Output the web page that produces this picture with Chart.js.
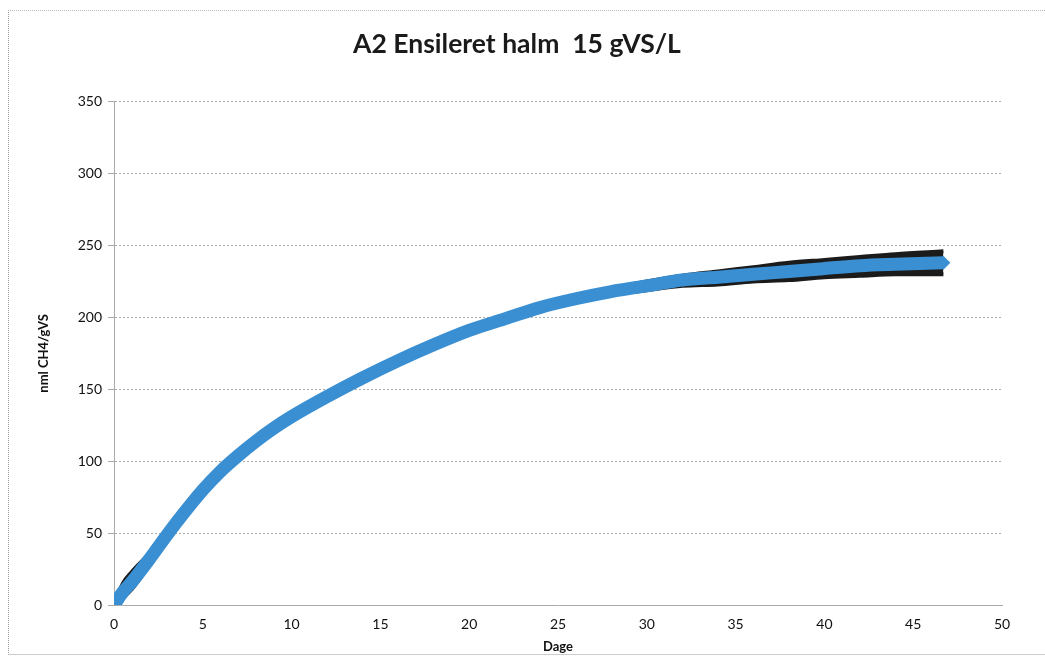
<!DOCTYPE html>
<html>
<head>
<meta charset="utf-8">
<script src="https://cdn.jsdelivr.net/npm/chart.js@4.4.1/dist/chart.umd.min.js"></script>
<style>
  html, body { margin: 0; padding: 0; background: #fff; }
  #wrap { position: relative; width: 1045px; height: 659px; }
  #frame { position: absolute; left: 8px; top: 10px; width: 1045px; height: 645px; border-left: 1px dotted #999; border-top: 1px dotted #bbb; border-bottom: 1px solid #ccc; box-sizing: border-box; pointer-events: none; }
</style>
</head>
<body>
<div id="wrap">
  <canvas id="chart" width="1045" height="659"></canvas>
  <div id="frame"></div>
</div>
<script>
// days and accumulated methane (nml CH4/gVS)
const days  = [0, 0.5, 1, 2, 3, 4, 5, 6, 7, 8, 9, 10, 12, 14, 16, 18, 20, 22, 24, 26, 28, 30, 32, 34, 36, 38, 40, 42, 44, 46.7];
const meanCH4 = [0, 9, 16, 32, 49, 65, 80, 93, 104, 114, 123, 131, 145, 158, 170, 181, 191, 199, 207, 213, 218, 222, 226, 228, 230, 232, 234, 236, 237, 238];
const upperCH4 = [0, 15, 23, 36, 51, 67, 82, 94, 105, 115, 124, 132, 146, 159, 171, 182, 192, 200, 208, 214, 220, 225, 229, 232, 235, 238, 240, 242, 244, 246];
const lowerCH4 = [0, 5, 11, 28, 46, 63, 78, 92, 102, 112, 121, 129, 143, 157, 169, 180, 190, 198, 205, 211, 216, 219, 222, 223, 225, 226, 228, 229, 230, 230];

const xTicks = [0, 5, 10, 15, 20, 25, 30, 35, 40, 45, 50];
const yTicks = [0, 50, 100, 150, 200, 250, 300, 350];

const toPts = arr => days.map((d, i) => ({x: d, y: arr[i]}));

const font = "Lato, 'Open Sans', 'DejaVu Sans', sans-serif";

new Chart(document.getElementById('chart'), {
  type: 'line',
  data: {
    datasets: [
      {
        label: 'upper',
        data: toPts(upperCH4),
        borderColor: '#1b1b1b',
        borderWidth: 4,
        pointRadius: 0,
        cubicInterpolationMode: 'monotone',
        fill: '+1',
        backgroundColor: '#1b1b1b',
        order: 2
      },
      {
        label: 'lower',
        data: toPts(lowerCH4),
        borderColor: '#1b1b1b',
        borderWidth: 4,
        pointRadius: 0,
        cubicInterpolationMode: 'monotone',
        fill: false,
        order: 2
      },
      {
        label: 'A2',
        data: toPts(meanCH4),
        borderColor: '#3a8fd2',
        backgroundColor: '#3a8fd2',
        borderWidth: 13,
        pointStyle: 'rectRot',
        pointRadius: ctx => ctx.dataIndex === days.length - 1 || ctx.dataIndex === 0 ? 7 : 4,
        pointBorderWidth: 0,
        cubicInterpolationMode: 'monotone',
        fill: false,
        order: 1
      }
    ]
  },
  options: {
    responsive: false,
    animation: false,
    layout: { padding: { left: 32, right: 43, top: 18, bottom: 0 } },
    plugins: {
      legend: { display: false },
      tooltip: { enabled: false },
      title: {
        display: true,
        text: 'A2 Ensileret halm  15 gVS/L',
        color: '#1a1a1a',
        font: { family: font, size: 26.5, weight: 'bold' },
        padding: { top: 11, bottom: 41 }
      }
    },
    scales: {
      x: {
        type: 'linear',
        min: 0,
        max: 50,
        afterBuildTicks: s => { s.ticks = xTicks.map(v => ({value: v})); },
        afterFit: s => { s.height = 54; },
        grid: { display: false, drawTicks: true, tickLength: 5, color: '#999' },
        border: { color: '#aaa', width: 1 },
        ticks: { color: '#111', font: { family: font, size: 14 }, padding: 6 },
        title: { display: true, text: 'Dage', color: '#111', font: { family: font, size: 13, weight: 'bold' }, padding: { top: 0 } }
      },
      y: {
        min: 0,
        max: 350,
        afterBuildTicks: s => { s.ticks = yTicks.map(v => ({value: v})); },
        afterFit: s => { s.width = 82; },
        grid: { color: '#a9a9a9', lineWidth: 1, drawTicks: true, tickLength: 6 },
        border: { color: '#aaa', width: 1, dash: [2, 2] },
        ticks: { color: '#111', font: { family: font, size: 14 }, padding: 6 },
        title: { display: true, text: 'nml CH4/gVS', color: '#111', font: { family: font, size: 13, weight: 'bold' }, padding: { bottom: 2 } }
      }
    }
  }
});
</script>
</body>
</html>
